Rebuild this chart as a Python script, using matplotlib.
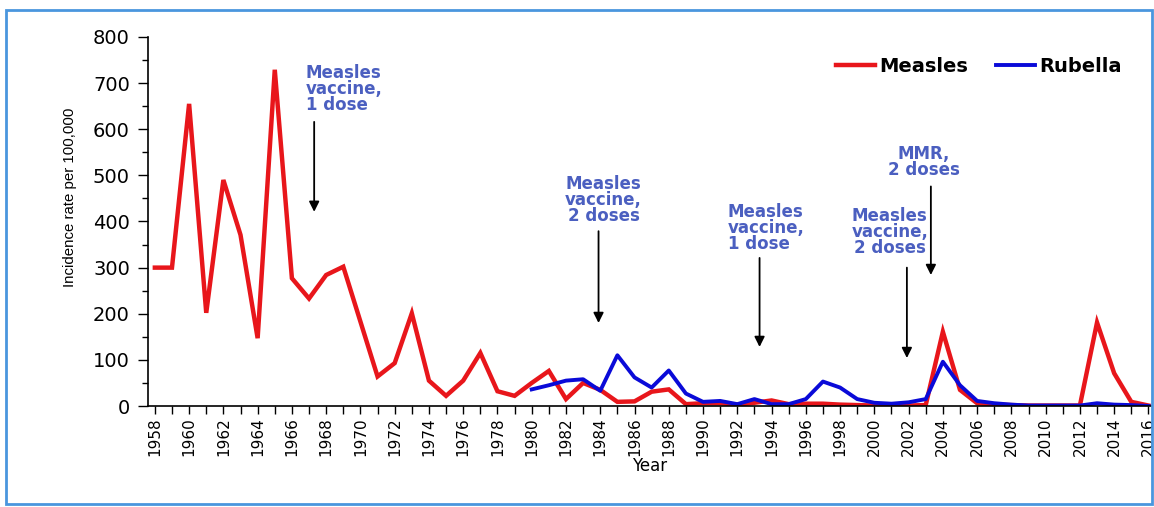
import numpy as np
import matplotlib
matplotlib.use("Agg")
import matplotlib.pyplot as plt
from matplotlib.patches import Rectangle

# Données
measles_years = list(range(1958, 2017))
measles_rate = [300, 300, 655, 202, 490, 371, 147, 729, 277, 233,
                284, 302, 183, 64, 93, 201, 55, 22, 55, 115,
                32, 22, 50, 76, 15, 50, 35, 9, 10, 31,
                36, 4, 6, 6, 3, 7, 12, 4, 5, 5,
                3, 2, 1, 1, 1, 2, 161, 35, 6, 3,
                2, 1, 1, 1, 1, 181, 71, 9, 1]

rubella_years = list(range(1980, 2017))
rubella_rate = [36, 45, 55, 58, 33, 110, 62, 40, 77, 27,
                9, 11, 4, 15, 4, 4, 15, 53, 40, 15,
                7, 5, 8, 15, 96, 45, 11, 6, 3, 1,
                1, 1, 1, 6, 3, 2, 0]

# Annotations : (texte, x texte, y texte, alignement, x flèche, y départ, y pointe)
annotations = [
    ("Measles\nvaccine,\n1 dose", 1966.8, 742, "left", 1967.3, 616, 421),
    ("Measles\nvaccine,\n2 doses", 1984.2, 501, "center", 1983.9, 379, 180),
    ("Measles\nvaccine,\n1 dose", 1991.45, 440, "left", 1993.3, 321, 128),
    ("Measles\nvaccine,\n2 doses", 2000.9, 432, "center", 2001.9, 300, 104),
    ("MMR,\n2 doses", 2002.9, 566, "center", 2003.3, 476, 284),
]

TEXT_BLUE = "#4b5fc0"

fig = plt.figure(figsize=(11.54, 5.07), dpi=100)
ax = fig.add_axes([148 / 1154, 1 - 406 / 507, (1151 - 148) / 1154, (406 - 37) / 507])

ax.plot(measles_years, measles_rate, color="#e8161b", lw=3.2, label="Measles",
        solid_joinstyle="miter")
ax.plot(rubella_years, rubella_rate, color="#0a0ad8", lw=2.8, label="Rubella")

ax.set_xlim(1957.6, 2016.15)
ax.set_ylim(0, 800)

# Axes : seulement gauche et bas
ax.spines["top"].set_visible(False)
ax.spines["right"].set_visible(False)
ax.spines["left"].set_linewidth(1.2)
ax.spines["bottom"].set_linewidth(1.2)

ax.set_yticks(np.arange(0, 801, 100))
ax.set_yticks(np.arange(50, 800, 100), minor=True)
ax.tick_params(axis="y", which="major", length=7, width=1, labelsize=14, pad=6)
ax.tick_params(axis="y", which="minor", length=4, width=1)

ax.set_xticks(measles_years)
ax.set_xticklabels([str(y) if y % 2 == 0 else "" for y in measles_years], rotation=90)
ax.tick_params(axis="x", which="major", length=6, width=1, labelsize=11, pad=2)

ax.set_ylabel("Incidence rate per 100,000", fontsize=10.8, family="Liberation Sans")
ax.yaxis.set_label_coords(-0.071, 0.566)
ax.set_xlabel("Year", fontsize=12, labelpad=1)

for txt, tx, ty, ha, axx, y0, y1 in annotations:
    ax.text(tx, ty, txt, ha=ha, va="top", color=TEXT_BLUE, fontsize=12,
            fontweight="bold", linespacing=0.86, multialignment=ha)
    ax.annotate("", xy=(axx, y1), xytext=(axx, y0),
                arrowprops=dict(arrowstyle="-|>,head_width=0.3,head_length=0.6",
                                color="black", lw=1.3, shrinkA=0, shrinkB=0))

leg = ax.legend(loc="upper right", bbox_to_anchor=(1122 / 1154, 1 - 57 / 507),
                bbox_transform=fig.transFigure, ncol=2, frameon=False,
                handlelength=2.0, handletextpad=0.25, columnspacing=1.4,
                borderaxespad=0, borderpad=0,
                prop={"weight": "bold", "size": 14})

# Cadre bleu autour de la figure
fig.patches.append(Rectangle((6 / 1154, 3 / 507), 1146 / 1154, 494 / 507,
                             transform=fig.transFigure, fill=False,
                             edgecolor="#4a96de", linewidth=2))

fig.savefig("out.png", dpi=100)
